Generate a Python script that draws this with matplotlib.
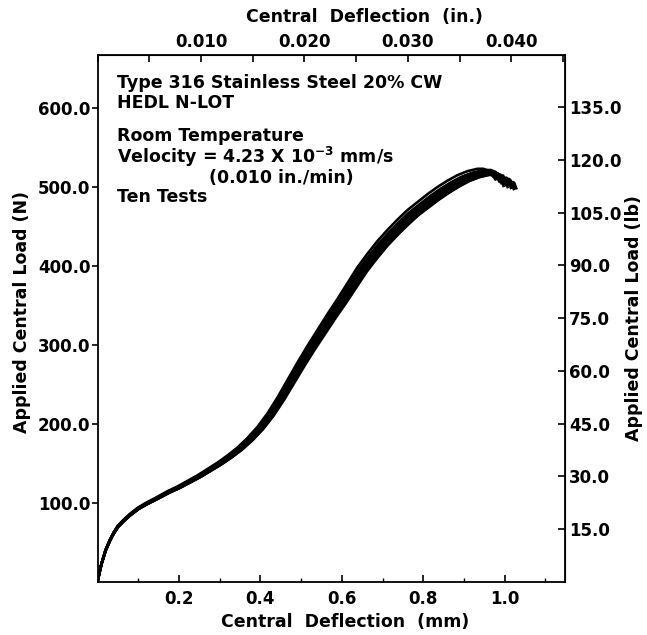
import matplotlib
matplotlib.use("Agg")
import matplotlib.pyplot as plt
import numpy as np
from matplotlib.ticker import MultipleLocator

N_PER_LB = 4.448
MM_PER_IN = 25.4

# base load-deflection trace
deflection_mm = [0.0, 0.005, 0.01, 0.02, 0.03, 0.04, 0.05, 0.065, 0.08, 0.1,
                 0.12, 0.15, 0.175, 0.2, 0.225, 0.25, 0.275, 0.3, 0.325, 0.35,
                 0.375, 0.4, 0.425, 0.45, 0.475, 0.5, 0.525, 0.55, 0.575, 0.6,
                 0.625, 0.65, 0.675, 0.7, 0.725, 0.75, 0.775, 0.8, 0.825, 0.85,
                 0.875, 0.9, 0.925, 0.95, 0.965, 0.975, 0.985, 0.99, 0.995, 1.0,
                 1.005, 1.01]
load_n = [0, 12, 23, 40, 52, 62, 70, 78, 85, 93,
          99, 107, 114, 120, 127, 134, 142, 150, 159, 169,
          181, 195, 212, 232, 254, 276, 297, 317, 337, 356,
          376, 396, 413, 429, 443, 456, 468, 478, 488, 497,
          505, 512, 517, 520, 520, 518, 514, 510, 513, 507,
          509, 502]

# per-test spread of the ten overlaid traces
test_defl_scale = [0.982, 0.987, 0.992, 0.997, 1.001, 1.005, 1.009, 1.012, 1.015, 1.018]
test_load_scale = [1.005, 0.998, 1.0, 0.995, 1.002, 0.993, 0.997, 0.99, 0.994, 0.992]

left_ticks = [100.0, 200.0, 300.0, 400.0, 500.0, 600.0]
right_ticks = [15.0, 30.0, 45.0, 60.0, 75.0, 90.0, 105.0, 120.0, 135.0]
bottom_ticks = [0.2, 0.4, 0.6, 0.8, 1.0]
top_ticks = [0.010, 0.020, 0.030, 0.040]

info_lines = ["Type 316 Stainless Steel 20% CW", "HEDL N-LOT", "Room Temperature",
              "Velocity = 4.23 X 10$^{-3}$ mm/s", "(0.010 in./min)", "Ten Tests"]

plt.rcParams["font.family"] = ["DejaVu Sans"]
plt.rcParams["font.weight"] = "bold"
plt.rcParams["mathtext.fontset"] = "custom"
plt.rcParams["mathtext.rm"] = "DejaVu Sans:bold"
plt.rcParams["mathtext.bf"] = "DejaVu Sans:bold"
plt.rcParams["mathtext.default"] = "rm"

W, H = 647, 635
fig = plt.figure(figsize=(W / 100, H / 100), dpi=100)
ax = fig.add_axes([0.1507, 0.0839, 0.7226, 0.8287])

x = np.array(deflection_mm)
y = np.array(load_n, dtype=float)
for sx, sy in zip(test_defl_scale, test_load_scale):
    ax.plot(x * sx, y * sy, color="black", lw=1.9, solid_joinstyle="round")

ax.set_xlim(0, 1.148)
ax.set_ylim(0, 666.0)

for s in ax.spines.values():
    s.set_linewidth(1.3)

FS = 12
ax.set_xticks(bottom_ticks)
ax.set_xticklabels([f"{v:.1f}" for v in bottom_ticks])
ax.xaxis.set_minor_locator(MultipleLocator(0.1))
ax.set_yticks(left_ticks)
ax.set_yticklabels([f"{v:.1f}" for v in left_ticks])
ax.tick_params(axis="x", direction="in", length=5, width=1.2, labelsize=FS, pad=6)
ax.tick_params(axis="x", which="minor", direction="in", length=3, width=1)
ax.tick_params(axis="y", direction="out", length=4, width=1.2, labelsize=FS, pad=1)

ax_top = ax.secondary_xaxis("top", functions=(lambda v: v / MM_PER_IN, lambda v: v * MM_PER_IN))
ax_top.set_xticks(top_ticks)
ax_top.set_xticklabels([f"{v:.3f}" for v in top_ticks])
ax_top.xaxis.set_minor_locator(MultipleLocator(0.005))
ax_top.tick_params(axis="x", direction="in", length=5, width=1.2, labelsize=FS, pad=3)
ax_top.tick_params(axis="x", which="minor", direction="in", length=5, width=1.2)

ax_right = ax.secondary_yaxis("right", functions=(lambda v: v / N_PER_LB, lambda v: v * N_PER_LB))
ax_right.set_yticks(right_ticks)
ax_right.set_yticklabels([f"{v:.1f}" for v in right_ticks])
ax_right.tick_params(axis="y", direction="in", length=5, width=1.2, labelsize=FS, pad=3)

# axis titles placed where the reference has them
LFS = 12.5
fig.text(345 / W, 1 - 622 / H, "Central  Deflection  (mm)", fontsize=LFS,
         ha="center", va="center")
fig.text(364 / W, 1 - 17 / H, "Central  Deflection  (in.)", fontsize=LFS,
         ha="center", va="center")
fig.text(22 / W, 1 - 312 / H, "Applied Central Load (N)", fontsize=LFS,
         ha="center", va="center", rotation=90)
fig.text(634 / W, 1 - 318 / H, "Applied Central Load (lb)", fontsize=LFS,
         ha="center", va="center", rotation=90)

line_y = [83, 103, 136, 157, 178, 197]
for i, (txt, py) in enumerate(zip(info_lines, line_y)):
    px = 209 if i == 4 else 117
    fig.text(px / W, 1 - py / H, txt, fontsize=12.5, ha="left", va="center")

fig.savefig("out.png", dpi=100)
